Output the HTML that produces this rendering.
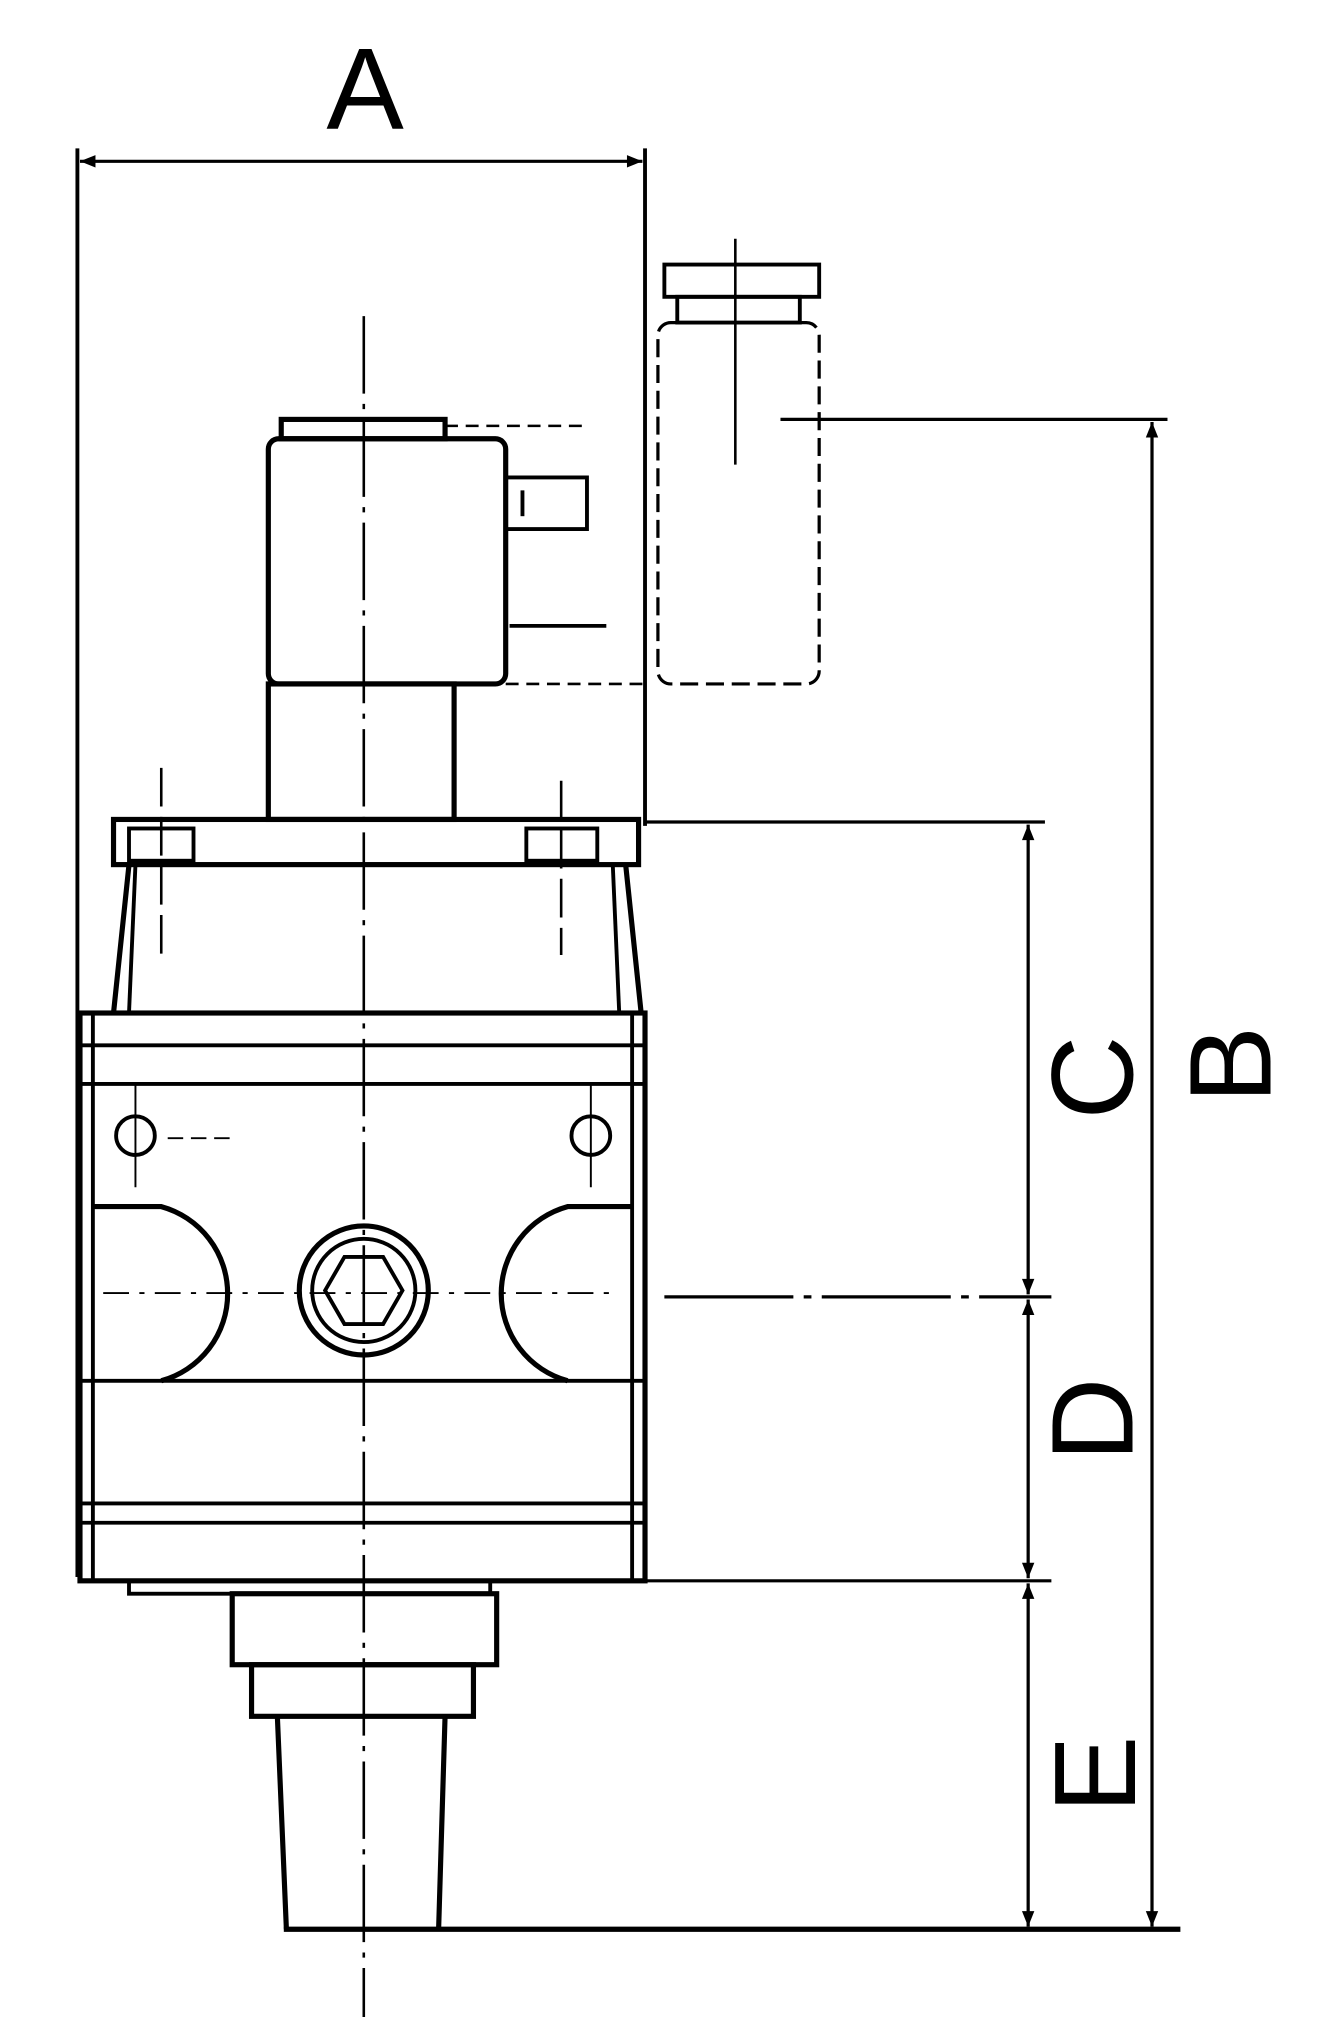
<!DOCTYPE html>
<html><head><meta charset="utf-8"><style>
html,body{margin:0;padding:0;background:#fff;}
svg{display:block;}
text{font-family:"Liberation Sans",sans-serif;fill:#000;}
</style></head><body>
<svg width="1321" height="2017" viewBox="0 0 1024 1563" preserveAspectRatio="none" xmlns="http://www.w3.org/2000/svg">
<defs>
<marker id="ar" viewBox="0 0 10 10" refX="10" refY="5" markerWidth="20" markerHeight="12" orient="auto-start-reverse" markerUnits="userSpaceOnUse"><path d="M0,1 L10,5 L0,9 Z" fill="#000"/></marker>
</defs>
<g stroke="#000" fill="none" stroke-width="3">
<line x1="60" y1="115" x2="60" y2="1222"/>
<line x1="500" y1="115" x2="500" y2="640"/>
<line x1="62" y1="125" x2="498" y2="125" marker-start="url(#ar)" marker-end="url(#ar)" stroke-width="2.5"/>
<line x1="282" y1="245" x2="282" y2="1563" stroke-width="2" stroke-dasharray="60,8,4,8"/>
<rect x="218" y="325" width="127" height="15" stroke-width="4"/>
<rect x="208" y="340" width="184" height="190" rx="8" stroke-width="4"/>
<line x1="345" y1="330" x2="455" y2="330" stroke-width="2" stroke-dasharray="10,6"/>
<path d="M392 370 H455 V410 H392" stroke-width="3"/>
<line x1="405" y1="380" x2="405" y2="400"/>
<line x1="395" y1="485" x2="470" y2="485"/>
<line x1="392" y1="530" x2="500" y2="530" stroke-width="2" stroke-dasharray="10,6"/>
<rect x="510" y="250" width="125" height="280" rx="10" stroke-width="2.5" stroke-dasharray="14,6"/>
<path d="M515 205 h120 v25 h-120z" stroke-width="3"/>
<path d="M525 230 h95 v20 h-95z" stroke-width="3"/>
<line x1="570" y1="185" x2="570" y2="360" stroke-width="2"/>
<line x1="605" y1="325" x2="905" y2="325" stroke-width="2.5"/>
<rect x="208" y="530" width="144" height="105" stroke-width="4"/>
<rect x="88" y="635" width="407" height="35" stroke-width="4"/>
<rect x="100" y="642" width="50" height="25" stroke-width="3"/>
<rect x="408" y="642" width="55" height="25" stroke-width="3"/>
<line x1="125" y1="595" x2="125" y2="740" stroke-width="2" stroke-dasharray="30,8"/>
<line x1="435" y1="605" x2="435" y2="740" stroke-width="2" stroke-dasharray="30,8"/>
<path d="M100 670 L88 785 M485 670 L497 785" stroke-width="4"/>
<line x1="105" y1="670" x2="100" y2="785"/>
<line x1="475" y1="670" x2="480" y2="785"/>
<line x1="500" y1="637" x2="810" y2="637" stroke-width="2.5"/>
<rect x="62" y="785" width="438" height="440" stroke-width="4"/>
<line x1="72" y1="785" x2="72" y2="1225"/>
<line x1="490" y1="785" x2="490" y2="1225"/>
<line x1="62" y1="810" x2="500" y2="810"/>
<line x1="62" y1="840" x2="500" y2="840"/>
<line x1="62" y1="1070" x2="500" y2="1070"/>
<line x1="62" y1="1165" x2="500" y2="1165"/>
<line x1="62" y1="1180" x2="500" y2="1180"/>
<path d="M72 935 H125 A70 70 0 0 1 125 1070" stroke-width="4"/>
<path d="M490 935 H440 A70 70 0 0 0 440 1070" stroke-width="4"/>
<circle cx="105" cy="880" r="15"/>
<circle cx="458" cy="880" r="15"/>
<line x1="105" y1="840" x2="105" y2="920" stroke-width="1.5"/>
<line x1="458" y1="840" x2="458" y2="920" stroke-width="1.5"/>
<line x1="130" y1="882" x2="180" y2="882" stroke-width="1.5" stroke-dasharray="12,6"/>
<circle cx="282" cy="1000" r="50" stroke-width="4"/>
<circle cx="282" cy="1000" r="40"/>
<polygon points="312,1000 297,1026 267,1026 252,1000 267,974 297,974" stroke-width="3"/>
<line x1="80" y1="1002" x2="480" y2="1002" stroke-width="1.5" stroke-dasharray="20,8,4,8"/>
<rect x="100" y="1225" width="280" height="10"/>
<rect x="180" y="1235" width="205" height="55" stroke-width="4"/>
<rect x="195" y="1290" width="172" height="40" stroke-width="4"/>
<path d="M215 1330 L222 1495 M345 1330 L340 1495" stroke-width="4"/>
<line x1="220" y1="1495" x2="915" y2="1495" stroke-width="4"/>
<line x1="500" y1="1225" x2="815" y2="1225" stroke-width="2.5"/>
<line x1="515" y1="1005" x2="815" y2="1005" stroke-width="2.5" stroke-dasharray="100,8,6,8"/>
<line x1="893" y1="327" x2="893" y2="1493" marker-start="url(#ar)" marker-end="url(#ar)" stroke-width="2.5"/>
<line x1="797" y1="639" x2="797" y2="1003" marker-start="url(#ar)" marker-end="url(#ar)" stroke-width="2.5"/>
<line x1="797" y1="1007" x2="797" y2="1223" marker-start="url(#ar)" marker-end="url(#ar)" stroke-width="2.5"/>
<line x1="797" y1="1227" x2="797" y2="1493" marker-start="url(#ar)" marker-end="url(#ar)" stroke-width="2.5"/>
</g>
<text x="283" y="100" font-size="90" text-anchor="middle">A</text>
<text transform="translate(985,825) rotate(-90)" font-size="90" text-anchor="middle">B</text>
<text transform="translate(878,835) rotate(-90)" font-size="90" text-anchor="middle">C</text>
<text transform="translate(878,1100) rotate(-90)" font-size="90" text-anchor="middle">D</text>
<text transform="translate(880,1375) rotate(-90)" font-size="90" text-anchor="middle">E</text>
</svg>
</body></html>
